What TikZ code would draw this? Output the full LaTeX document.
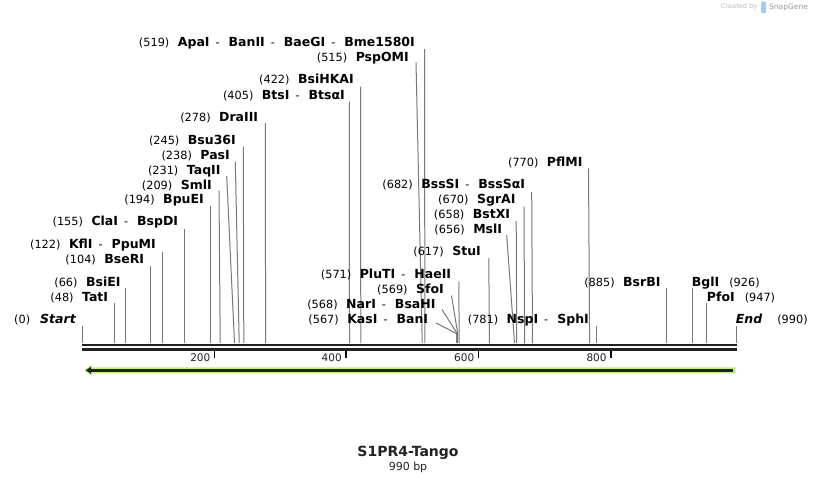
\documentclass[tikz,border=0pt]{standalone}
\usepackage{fontspec}
\setmainfont{DejaVu Sans}[ItalicFont={DejaVu Sans Oblique},BoldFont={DejaVu Sans Bold},BoldItalicFont={DejaVu Sans Bold Oblique}]
\definecolor{cutgray}{RGB}{120,120,120}
\definecolor{bardark}{RGB}{34,34,34}
\definecolor{featgreen}{RGB}{184,242,136}
\definecolor{logoblue}{RGB}{160,205,240}
\newcommand\nm[1]{{\fontsize{12.5}{14}\selectfont\bfseries #1}}
\newcommand\sepx{\hspace{6pt}-\hspace{9pt}}
\newcommand\num[1]{(#1)\hspace{8.5pt}}
\tikzset{
  lbl/.style={inner sep=0pt,font=\fontsize{11.3}{13}\selectfont,text=black},
  cut/.style={draw=cutgray,line width=1pt},
  tickl/.style={draw=black,line width=1.4pt},
  ticktxt/.style={inner sep=0pt,font=\fontsize{10.5}{12}\selectfont,text=bardark},
  barline/.style={draw=bardark,line width=2.4pt}
}
% left label: id, text, ylab, xright, xtop, ytop, xbottom
\newcommand\enzL[7]{%
  \node[lbl,anchor=base east] (L#1) at (#4,#3+4.5) {#2};
  \coordinate (T#1) at (#5,#6);
  \coordinate (B#1) at (#7,343);
  \draw[cut] (T#1) -- (B#1);}
% right label: id, text, ylab, xleft, xline, ytop
\newcommand\enzR[6]{%
  \node[lbl,anchor=base west] (L#1) at (#4,#3+4.5) {#2};
  \coordinate (T#1) at (#5,#6);
  \coordinate (B#1) at (#5,343);
  \draw[cut] (T#1) -- (B#1);}
\begin{document}
\begin{tikzpicture}[x=1pt,y=-1pt]
\fill[white] (0,0) rectangle (818,483);
\useasboundingbox (0,0) rectangle (818,483);

% logo
\node[inner sep=0pt,anchor=east,font=\fontsize{6.6}{8}\selectfont,text=black!25] (cby) at (757.5,7) {Created by};
\fill[logoblue,rounded corners=1pt] (761,1.5) rectangle (766,13);
\node[inner sep=0pt,anchor=west,font=\fontsize{7.5}{9}\selectfont,text=black!40] (sg) at (769,7) {SnapGene};

% enzymes, left labels
\enzL{start}{(0)\hspace{10pt}\nm{\itshape Start}}{319}{76}{82}{326}{82}
\enzL{tat}{\num{48}\nm{TatI}}{297}{108.3}{114}{303}{114}
\enzL{bsie}{\num{66}\nm{BsiEI}}{282}{120.7}{125.5}{288}{125.5}
\enzL{bser}{\num{104}\nm{BseRI}}{259}{144.3}{150.7}{266}{150.7}
\enzL{kfl}{\num{122}\nm{KflI}\sepx\nm{PpuMI}}{244}{156}{162.4}{251.7}{162.4}
\enzL{cla}{\num{155}\nm{ClaI}\sepx\nm{BspDI}}{221}{178.3}{184.3}{229}{184.3}
\enzL{bpue}{\num{194}\nm{BpuEI}}{199}{204}{210.3}{206}{210.3}
\enzL{sml}{\num{209}\nm{SmlI}}{185}{212}{219}{190.5}{220.2}
\enzL{taq}{\num{231}\nm{TaqII}}{170}{220.7}{226.7}{176}{234.5}
\enzL{pas}{\num{238}\nm{PasI}}{155}{230}{235.3}{161.7}{239.2}
\enzL{bsu}{\num{245}\nm{Bsu36I}}{140}{236}{243.3}{146.7}{243.8}
\enzL{dra}{\num{278}\nm{DraIII}}{117}{258.3}{265.3}{123}{265.6}
\enzL{bts}{\num{405}\nm{BtsI}\sepx\nm{BtsαI}}{95}{345}{349.4}{101.7}{349.5}
\enzL{bsihk}{\num{422}\nm{BsiHKAI}}{79}{354}{360.5}{86.7}{360.8}
\enzL{psp}{\num{515}\nm{PspOMI}}{57}{409}{416}{62.3}{422.2}
\enzL{apa}{\num{519}\nm{ApaI}\sepx\nm{BanII}\sepx\nm{BaeGI}\sepx\nm{Bme1580I}}{42}{415}{424.5}{49}{424.9}
\enzL{plu}{\num{571}\nm{PluTI}\sepx\nm{HaeII}}{274}{451.3}{458.8}{281.7}{459.2}
\enzL{stu}{\num{617}\nm{StuI}}{251}{481}{488.8}{258}{489.4}
\enzL{msl}{\num{656}\nm{MslI}}{229}{502.3}{506.7}{235}{514.5}
\enzL{bstx}{\num{658}\nm{BstXI}}{214}{510.3}{516.2}{221}{516.7}
\enzL{sgra}{\num{670}\nm{SgrAI}}{199}{515.7}{524}{206.7}{524.6}
\enzL{bsss}{\num{682}\nm{BssSI}\sepx\nm{BssSαI}}{184}{525.3}{531.7}{192}{532.5}
\enzL{pflm}{\num{770}\nm{PflMI}}{162}{582.7}{588.5}{168.3}{589.6}
\enzL{nsp}{\num{781}\nm{NspI}\sepx\nm{SphI}}{319}{589}{596.2}{326}{596.2}
\enzL{bsrb}{\num{885}\nm{BsrBI}}{282}{660.7}{666}{288}{666}

% converging group (567-569)
\node[lbl,anchor=base east] (Lsfo) at (444,289+4.5) {\num{569}\nm{SfoI}};
\node[lbl,anchor=base east] (Lnar) at (435.7,304+4.5) {\num{568}\nm{NarI}\sepx\nm{BsaHI}};
\node[lbl,anchor=base east] (Lkas) at (428.3,319+4.5) {\num{567}\nm{KasI}\sepx\nm{BanI}};
\coordinate (Tsfo) at (451.5,295.5);
\coordinate (Tnar) at (442,309.5);
\coordinate (Tkas) at (436,323);
\coordinate (Csfo) at (457.7,333.5);
\coordinate (Cnar) at (457.1,333.5);
\coordinate (Ckas) at (456.5,333.5);
\coordinate (Bsfo) at (457.7,343);
\coordinate (Bnar) at (457.1,343);
\coordinate (Bkas) at (456.5,343);
\draw[cut] (Tsfo) -- (Csfo) -- (Bsfo);
\draw[cut] (Tnar) -- (Cnar) -- (Bnar);
\draw[cut] (Tkas) -- (Ckas) -- (Bkas);

% right labels
\enzR{bgl}{\nm{BglI}\hspace{10pt}(926)}{282}{691.7}{692.5}{288}
\enzR{pfo}{\nm{PfoI}\hspace{10pt}(947)}{297}{706.7}{706.7}{303}
\enzR{end}{\nm{\itshape End}\hspace{15pt}(990)}{319}{735.7}{736}{326}

% sequence bar
\coordinate (s0a) at (82,345.2); \coordinate (s1a) at (736.5,345.2);
\coordinate (s0b) at (82,349.6); \coordinate (s1b) at (736.5,349.6);
\draw[barline] (s0a) -- (s1a);
\draw[barline] (s0b) -- (s1b);

% ruler ticks
\foreach \t/\xx in {200/214.5,400/345.9,600/478.4,800/610.8}{
  \coordinate (ta\t) at (\xx,350.5);
  \coordinate (tb\t) at (\xx,357.5);
  \draw[tickl] (ta\t) -- (tb\t);
  \node[ticktxt,anchor=base east] (tl\t) at (\xx-4,361.5) {\t};
}

% feature arrow
\fill[featgreen] (735.5,367.3) -- (91.5,367.3) -- (91.5,364.6) -- (83.8,370.3) -- (91.5,376) -- (91.5,373.3) -- (735.5,373.3) -- cycle;
\coordinate (fa) at (733.3,370.3);
\coordinate (fb) at (89,370.3);
\draw[draw=bardark,line width=2.4pt] (fa) -- (fb);
\fill[bardark] (85.8,370.3) -- (91,366.8) -- (91,373.8) -- cycle;

% title
\node[inner sep=0pt,font=\fontsize{14}{16}\selectfont\bfseries,text=bardark] (title) at (408,452.5) {S1PR4-Tango};
\node[inner sep=0pt,font=\fontsize{11}{13}\selectfont,text=bardark] (len) at (408,467.3) {990 bp};
\end{tikzpicture}
\end{document}
